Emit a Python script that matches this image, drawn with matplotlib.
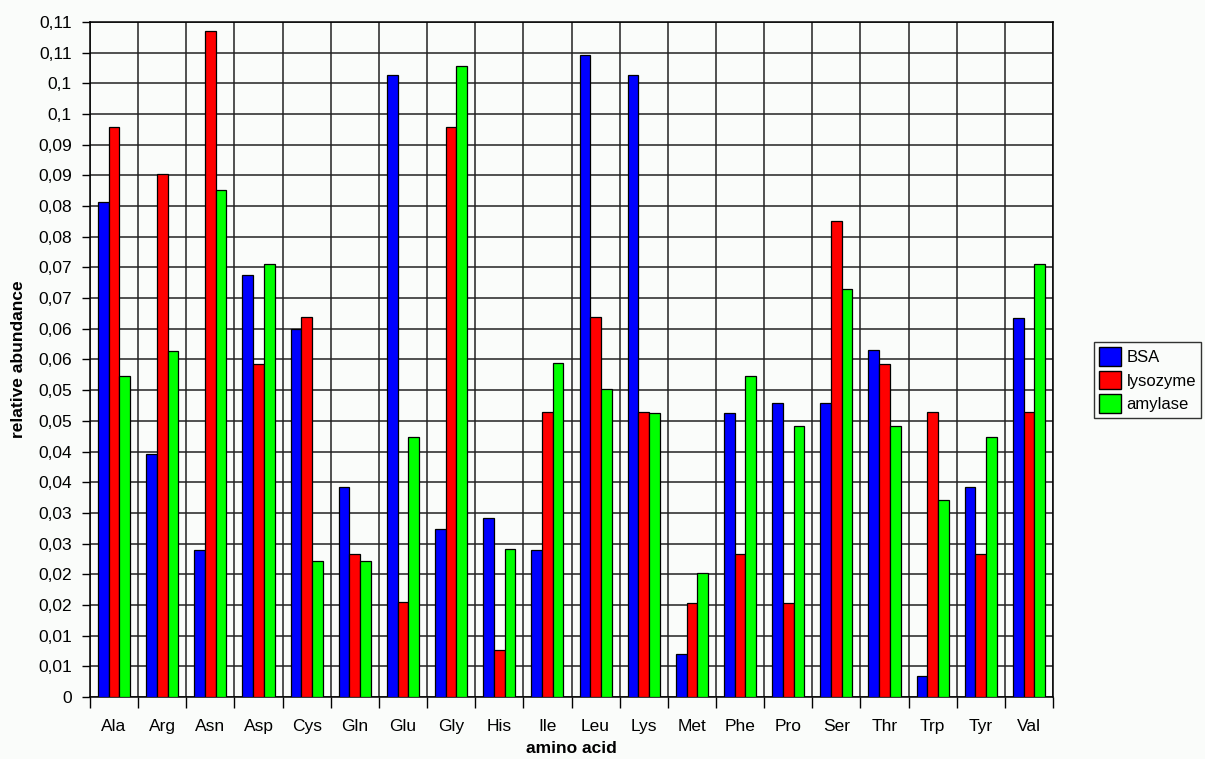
import matplotlib.pyplot as plt
import numpy as np
from matplotlib.patches import Patch

plt.rcParams['font.family'] = ['Liberation Sans', 'DejaVu Sans']

amino = ['Ala', 'Arg', 'Asn', 'Asp', 'Cys', 'Gln', 'Glu', 'Gly', 'His', 'Ile',
         'Leu', 'Lys', 'Met', 'Phe', 'Pro', 'Ser', 'Thr', 'Trp', 'Tyr', 'Val']
bsa = [0.0807, 0.0396, 0.0240, 0.0687, 0.0600, 0.0342, 0.1013, 0.0274, 0.0291, 0.0239,
       0.1046, 0.1013, 0.0070, 0.0463, 0.0479, 0.0479, 0.0566, 0.0034, 0.0342, 0.0617]
lysozyme = [0.0929, 0.0853, 0.1085, 0.0542, 0.0619, 0.0233, 0.0155, 0.0929, 0.0076, 0.0465,
            0.0619, 0.0465, 0.0153, 0.0233, 0.0153, 0.0776, 0.0542, 0.0465, 0.0233, 0.0465]
amylase = [0.0523, 0.0564, 0.0827, 0.0706, 0.0221, 0.0221, 0.0424, 0.1029, 0.0241, 0.0545,
           0.0502, 0.0463, 0.0202, 0.0523, 0.0442, 0.0665, 0.0442, 0.0321, 0.0424, 0.0706]
series_names = ['BSA', 'lysozyme', 'amylase']
colors = ['#0000ff', '#ff0000', '#00ff00']

yticks = [i * 0.005 for i in range(23)]
ytick_labels = ['0', '0,01', '0,01', '0,02', '0,02', '0,03', '0,03', '0,04', '0,04',
                '0,05', '0,05', '0,06', '0,06', '0,07', '0,07', '0,08', '0,08',
                '0,09', '0,09', '0,1', '0,1', '0,11', '0,11']

bg = '#fafcfa'
fig = plt.figure(figsize=(12.05, 7.59), dpi=100, facecolor=bg)
ax = fig.add_axes([90 / 1205, 62 / 759, 963 / 1205, 675 / 759])
ax.set_facecolor(bg)

x = np.arange(len(amino))
w = 0.222
for i, (vals, c) in enumerate(zip([bsa, lysozyme, amylase], colors)):
    ax.bar(x + (i - 1) * w, vals, width=w, color=c, edgecolor='black', linewidth=0.9, zorder=3)

ax.set_xlim(-0.5, len(amino) - 0.5)
ax.set_ylim(0, 0.11)
ax.set_yticks(yticks)
ax.set_yticklabels(ytick_labels, fontsize=12.5)
ax.set_xticks(x)
ax.set_xticklabels(amino, fontsize=12.5)
ax.tick_params(axis='x', length=0, pad=16)
ax.tick_params(axis='y', length=6, width=1, color='black', pad=7)
# boundary ticks and vertical grid
ax.set_xticks(np.arange(-0.5, len(amino)), minor=True)
ax.tick_params(axis='x', which='minor', length=8, width=1, color='black')
ax.grid(True, which='minor', axis='x', color='#222222', linewidth=1.1, zorder=0)
ax.grid(True, which='major', axis='y', color='#222222', linewidth=1.1, zorder=0)
ax.set_axisbelow(True)
for s in ax.spines.values():
    s.set_color('black')
    s.set_linewidth(1.1)

ax.set_ylabel('relative abundance', fontsize=12.5, fontweight='bold', labelpad=9)
ax.set_xlabel('amino acid', fontsize=12.5, fontweight='bold', labelpad=5)

handles = [Patch(facecolor=c, edgecolor='black', label=n) for c, n in zip(colors, series_names)]
fig.legend(handles=handles, loc='upper left', bbox_to_anchor=(1094 / 1205, 1 - 342 / 759),
           fontsize=12, frameon=True, fancybox=False, edgecolor='black',
           facecolor=bg, borderpad=0.3, handlelength=1.3, handleheight=1.35,
           handletextpad=0.35, labelspacing=0.3, borderaxespad=0)

fig.savefig('out.png', dpi=100, facecolor=bg)
